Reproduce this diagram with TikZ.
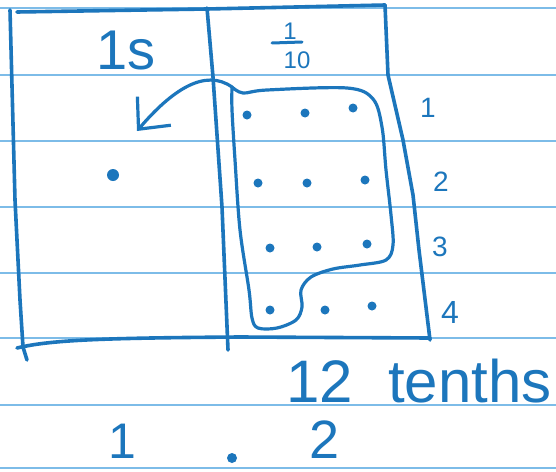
\documentclass[tikz,border=0pt]{standalone}
\usepackage{fontspec}
\setmainfont{Liberation Sans}
\usetikzlibrary{arrows.meta}
\definecolor{ink}{RGB}{28,118,188}
\definecolor{rulecol}{RGB}{125,188,232}
\begin{document}
\begin{tikzpicture}[x=1pt,y=-1pt,
  paper/.style={rulecol, line width=1.8pt},
  pen/.style={ink, line width=3.6pt, line cap=round, line join=round},
  loopline/.style={ink, line width=3.2pt, line cap=round, line join=round},
  dotmark/.style={circle, fill=ink, inner sep=0pt, minimum size=9pt},
  bigdot/.style={circle, fill=ink, inner sep=0pt, minimum size=12pt},
  hand/.style={text=ink, inner sep=0pt, font=\fontsize{#1}{#1}\selectfont},
]
\useasboundingbox (0,0) rectangle (556,471);
\fill[white] (0,0) rectangle (556,471);
% ruled paper
\foreach \yy in {8,75,141,207,273,338,405,468} \draw[paper] (0,\yy) -- (556,\yy);
% table frame
\draw[pen] (10,10) -- (15,200) -- (20,300) -- (23,347) -- (27,360);
\draw[pen] (17,12) -- (207,9) -- (385,5);
\draw[pen] (207,8) -- (213,77) -- (222,207) -- (228,350);
\draw[pen] (385,5) -- (388,75) -- (403,140) -- (413,195) -- (419,250) -- (430,340);
\draw[pen] (17,348) .. controls (50,340) and (100,338) .. (240,337) -- (430,338);
% headers
\node[hand=56] (ones) at (126,51) {1s};
\node[hand=24] (num) at (290,31) {1};
\node[hand=24] (den) at (297,60) {10};
\draw[pen, line width=3pt] (272,43) -- (302,42);
% dots
\node[bigdot] (onedot) at (113,175) {};
\node[dotmark] (d11) at (247,115) {};
\node[dotmark] (d12) at (305,113) {};
\node[dotmark] (d13) at (353,108) {};
\node[dotmark] (d21) at (258,183) {};
\node[dotmark] (d22) at (307,183) {};
\node[dotmark] (d23) at (365,180) {};
\node[dotmark] (d31) at (270,248) {};
\node[dotmark] (d32) at (317,247) {};
\node[dotmark] (d33) at (367,244) {};
\node[dotmark] (d41) at (270,310) {};
\node[dotmark] (d42) at (325,310) {};
\node[dotmark] (d43) at (372,306) {};
% row labels
\node[hand=28] (r1) at (428,108) {1};
\node[hand=28] (r2) at (441,182) {2};
\node[hand=28] (r3) at (440,247) {3};
\node[hand=32] (r4) at (450,312) {4};
% loop around ten dots
\draw[loopline] plot[smooth, tension=0.55] coordinates {(232,87) (243,93) (267,90) (347,88) (373,99) (382,127) (386,170) (391,215) (393,245) (386,260) (360,265) (333,269) (311,277) (301,290) (302,307) (296,320) (277,328) (258,328) (252,318) (249,290) (240,230) (235,160) (232,110) (232,87)};
% regroup arrow
\coordinate (loopc) at (232,87);
\coordinate (onesend) at (137,131);
\draw[pen, line width=3.2pt, -{Straight Barb[length=24pt, width=44pt]}] (loopc) .. controls (205,68) and (172,90) .. (onesend);
% result text
\node[hand=60, anchor=base] (twelve) at (320,402) {12};
\node[hand=60, anchor=base] (tenths) at (470,402) {tenths};
\node[hand=50, anchor=base] (b1) at (122,458) {1};
\node[circle, fill=ink, inner sep=0pt, minimum size=10pt] (bdot) at (232,458) {};
\node[hand=54, anchor=base] (b2) at (325,458) {2};
\end{tikzpicture}
\end{document}
